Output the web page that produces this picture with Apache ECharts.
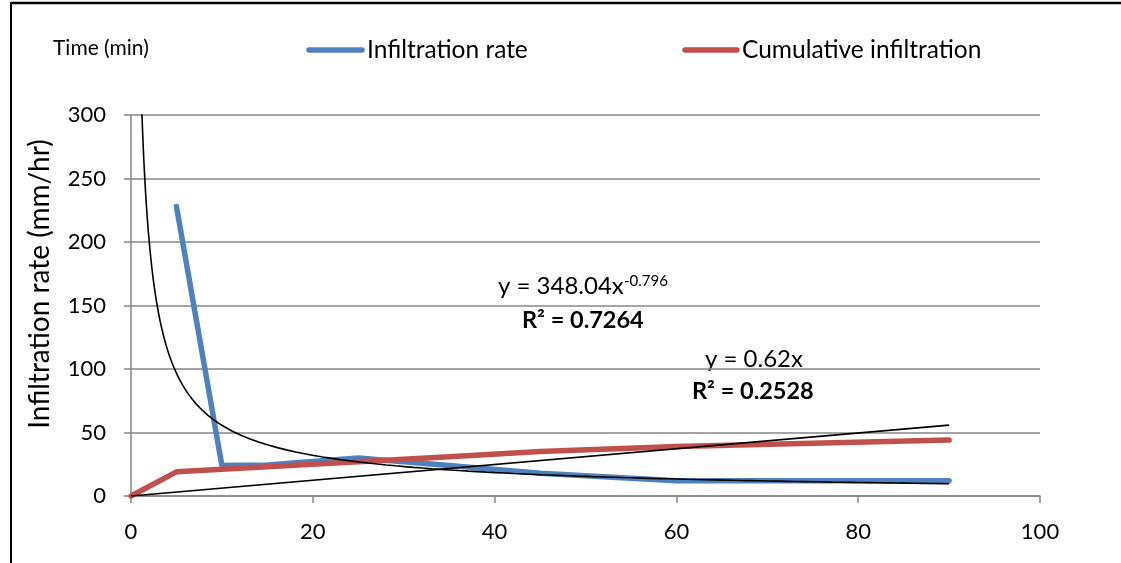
<!DOCTYPE html>
<html><head><meta charset="utf-8">
<script src="https://cdn.jsdelivr.net/npm/echarts@6/dist/echarts.min.js"></script>
<style>html,body{margin:0;padding:0;background:#fff}#c{width:1121px;height:563px}</style>
</head><body><div id="c"></div>
<script>
var timeMin = [0, 5, 10, 15, 25, 35, 45, 60, 75, 90];
var infiltrationRate = [null, 228, 24, 24.5, 30, 24, 18, 12, 12, 12];
var cumulativeInfiltration = [0, 19, 21, 23, 27, 31, 35, 39, 41.5, 44];
var xTicks = [0, 20, 40, 60, 80, 100];
var yTicks = [0, 50, 100, 150, 200, 250, 300];
var powerCoef = 348.04, powerExp = -0.796;
var linSlope = 0.62;

function pairs(xs, ys){ var o=[]; for(var i=0;i<xs.length;i++){ if(ys[i]!=null) o.push([xs[i], ys[i]]); } return o; }
var powerLine = [];
for (var x = 1; x <= 90; x += (x < 10 ? 0.1 : 1)) powerLine.push([x, powerCoef * Math.pow(x, powerExp)]);
powerLine.push([90, powerCoef * Math.pow(90, powerExp)]);
var linLine = [[0, 0], [90, linSlope * 90]];

var chart = echarts.init(document.getElementById('c'));
var FONT = 'Lato';
chart.setOption({
  animation: false,
  textStyle: {fontFamily: FONT},
  grid: {left: 131, right: 81, top: 115, bottom: 67},
  legend: {show: false},
  xAxis: {
    type: 'value', min: xTicks[0], max: xTicks[xTicks.length-1], interval: xTicks[1]-xTicks[0],
    axisLine: {lineStyle: {color: '#868686', width: 1.5}},
    axisTick: {show: true, length: 7, lineStyle: {color: '#868686', width: 1.5}},
    axisLabel: {color: '#000', fontSize: 22, margin: 25, fontFamily: FONT},
    splitLine: {show: false}
  },
  yAxis: {
    type: 'value', min: yTicks[0], max: yTicks[yTicks.length-1], interval: yTicks[1]-yTicks[0],
    axisLine: {show: true, lineStyle: {color: '#868686', width: 1.5}},
    axisTick: {show: true, length: 7, lineStyle: {color: '#868686', width: 1.5}},
    axisLabel: {color: '#000', fontSize: 22, margin: 25, fontFamily: FONT},
    splitLine: {show: true, lineStyle: {color: '#868686', width: 1.5}}
  },
  series: [
    {name: 'Infiltration rate', type: 'line', data: pairs(timeMin, infiltrationRate), symbol: 'none',
     lineStyle: {color: '#4F81BD', width: 5.5, cap: 'round', join: 'round'}, z: 3},
    {name: 'Cumulative infiltration', type: 'line', data: pairs(timeMin, cumulativeInfiltration), symbol: 'none',
     lineStyle: {color: '#C0504D', width: 5.5, cap: 'round', join: 'round'}, z: 4},
    {name: 'power', type: 'line', data: powerLine, symbol: 'none', smooth: false, clip: true,
     lineStyle: {color: '#000', width: 1.6}, z: 5, silent: true},
    {name: 'linear', type: 'line', data: linLine, symbol: 'none', clip: true,
     lineStyle: {color: '#000', width: 1.6}, z: 5, silent: true}
  ],
  graphic: [
    {type: 'line', shape: {x1: 11, y1: 3, x2: 1121, y2: 3}, style: {stroke: '#000', lineWidth: 2.5}},
    {type: 'line', shape: {x1: 11, y1: 2, x2: 11, y2: 563}, style: {stroke: '#000', lineWidth: 2}},
    {type: 'text', x: 40, y: 284, rotation: Math.PI / 2,
     style: {text: 'Infiltration rate (mm/hr)', font: '28px ' + FONT, fill: '#000', align: 'center', verticalAlign: 'middle'}},
    {type: 'text', x: 53, y: 48, style: {text: 'Time (min)', font: '21px ' + FONT, fill: '#000', verticalAlign: 'middle'}},
    {type: 'line', shape: {x1: 309, y1: 50, x2: 362, y2: 50}, style: {stroke: '#4F81BD', lineWidth: 5.5, lineCap: 'round'}},
    {type: 'text', x: 367, y: 50, style: {text: 'Infiltration rate', font: '24.5px ' + FONT, fill: '#000', verticalAlign: 'middle'}},
    {type: 'line', shape: {x1: 685, y1: 50, x2: 737, y2: 50}, style: {stroke: '#C0504D', lineWidth: 5.5, lineCap: 'round'}},
    {type: 'text', x: 742, y: 50, style: {text: 'Cumulative infiltration', font: '24.5px ' + FONT, fill: '#000', verticalAlign: 'middle'}},
    {type: 'text', x: 498, y: 286, style: {text: 'y = 348.04x', font: '24px ' + FONT, fill: '#000', verticalAlign: 'middle'}},
    {type: 'text', x: 624, y: 281, style: {text: '-0.796', font: '15px ' + FONT, fill: '#000', verticalAlign: 'middle'}},
    {type: 'text', x: 522, y: 320, style: {text: 'R² = 0.7264', font: 'bold 23.5px ' + FONT, fill: '#000', verticalAlign: 'middle'}},
    {type: 'text', x: 705, y: 359, style: {text: 'y = 0.62x', font: '24px ' + FONT, fill: '#000', verticalAlign: 'middle'}},
    {type: 'text', x: 692, y: 391, style: {text: 'R² = 0.2528', font: 'bold 23.5px ' + FONT, fill: '#000', verticalAlign: 'middle'}}
  ]
});
</script></body></html>
